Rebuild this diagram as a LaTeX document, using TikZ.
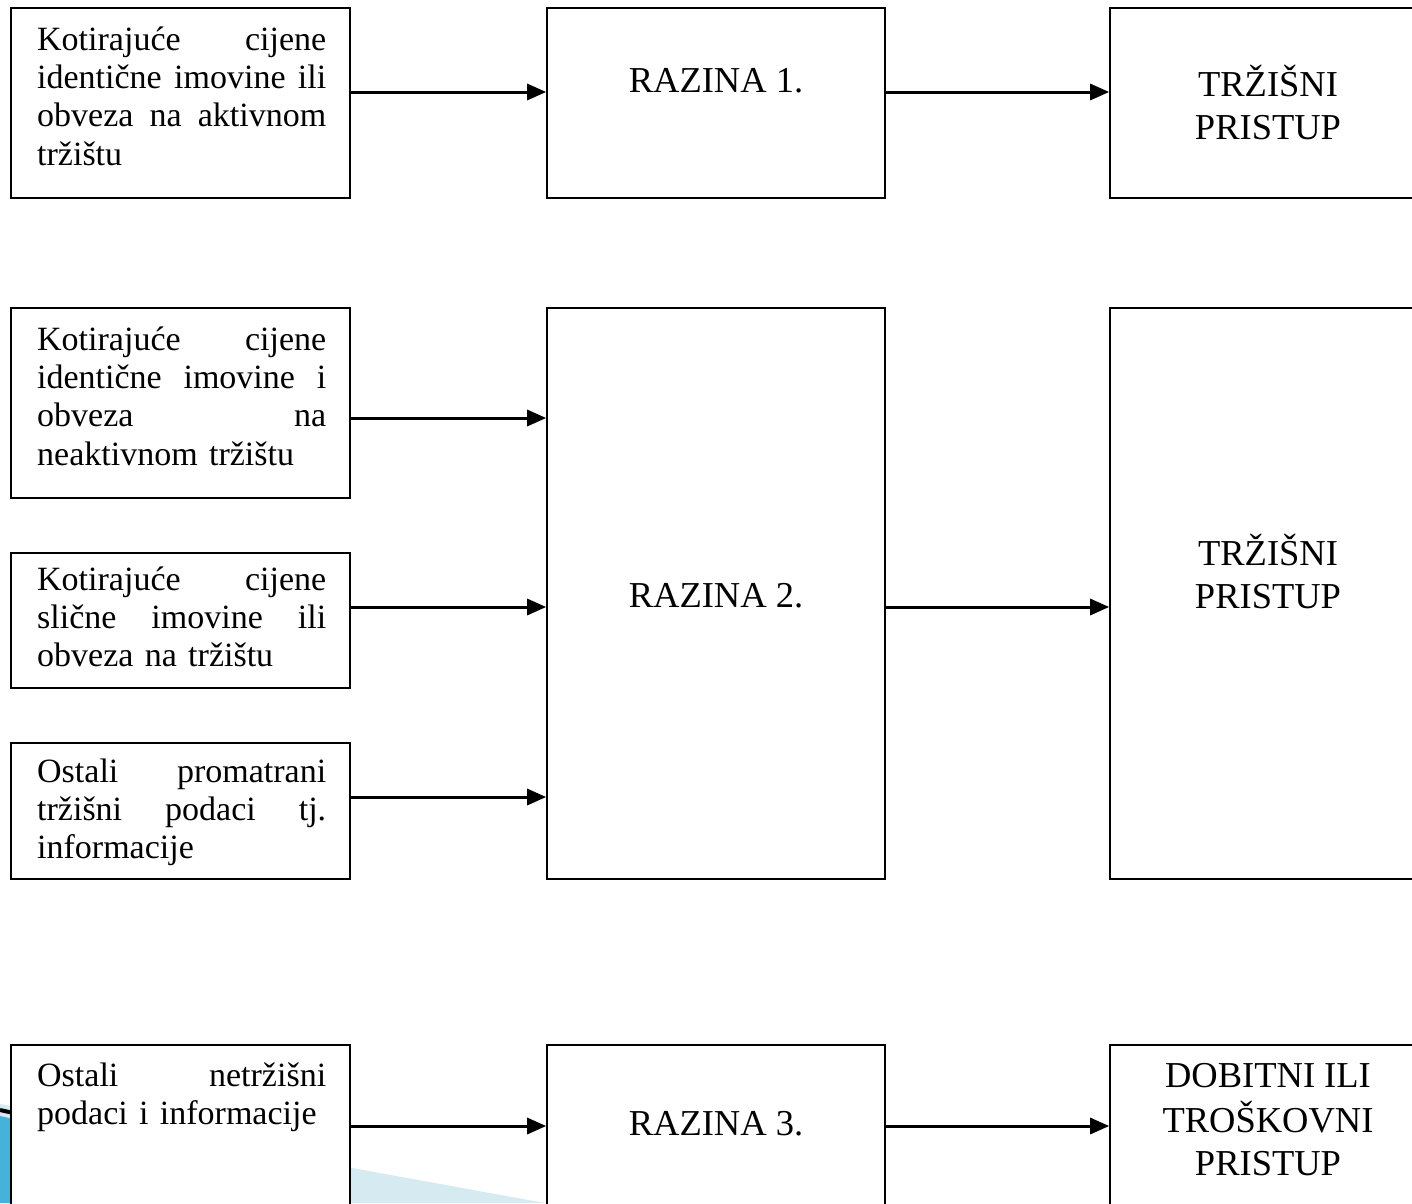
\documentclass[tikz,border=0pt]{standalone}
\usepackage{fontspec}
\setmainfont{Liberation Serif}
\usetikzlibrary{arrows.meta}
\definecolor{lightblue}{RGB}{214,234,242}
\definecolor{deepblue}{RGB}{70,178,218}
\newcommand{\jline}[1]{\leavevmode\makebox[289pt][l]{#1}}
\tikzset{
  box/.style={draw=black, line width=1.6pt, fill=white, inner sep=0pt},
  lbox/.style={box, minimum width=339pt},
  mbox/.style={box, minimum width=338pt},
  rbox/.style={box, minimum width=316pt},
  ltext/.style={anchor=north west, inner sep=0pt, text width=289pt, align=left,
     font=\fontsize{34}{38.3}\selectfont},
  ctext/.style={anchor=north, inner sep=0pt, align=center,
     font=\fontsize{36.5}{43}\selectfont},
  arr/.style={line width=3pt, -{Triangle[length=19pt,width=16pt]}},
}
\begin{document}
\begin{tikzpicture}[x=1pt,y=-1pt]
\useasboundingbox (0,0) rectangle (1412,1203);
\clip (0,0) rectangle (1412,1203);
\fill[white] (0,0) rectangle (1412,1203);
% background decoration
\fill[lightblue] (0,1104) -- (545,1203) -- (0,1203) -- cycle;
\fill[deepblue] (0,1116) -- (200,1160) -- (200,1203) -- (0,1203) -- cycle;
\draw[line width=4pt, black] (0,1110) -- (200,1154);
% left boxes
\node[lbox, minimum height=190pt] (a1) at (180.5,103) {};
\node[lbox, minimum height=190pt] (a2) at (180.5,403) {};
\node[lbox, minimum height=135pt] (a3) at (180.5,620.5) {};
\node[lbox, minimum height=136pt] (a4) at (180.5,811) {};
\node[lbox, minimum height=215pt] (a5) at (180.5,1152.5) {};
% middle boxes
\node[mbox, minimum height=190pt] (r1) at (716,103) {};
\node[mbox, minimum height=571pt] (r2) at (716,593.5) {};
\node[mbox, minimum height=215pt] (r3) at (716,1152.5) {};
% right boxes
\node[rbox, minimum height=190pt] (t1) at (1268,103) {};
\node[rbox, minimum height=571pt] (t2) at (1268,593.5) {};
\node[rbox, minimum height=215pt] (t3) at (1268,1152.5) {};
% left texts
\node[ltext] (a1t) at (37,23.2) {\strut\jline{Kotirajuće\hfill cijene}\\\jline{identične\hfill imovine\hfill ili}\\\jline{obveza\hfill na\hfill aktivnom}\\tržištu};
\node[ltext] (a2t) at (37,323.2) {\strut\jline{Kotirajuće\hfill cijene}\\\jline{identične\hfill imovine\hfill i}\\\jline{obveza\hfill na}\\neaktivnom tržištu};
\node[ltext] (a3t) at (37,563.2) {\strut\jline{Kotirajuće\hfill cijene}\\\jline{slične\hfill imovine\hfill ili}\\obveza na tržištu};
\node[ltext] (a4t) at (37,755.2) {\strut\jline{Ostali\hfill promatrani}\\\jline{tržišni\hfill podaci\hfill tj.}\\informacije};
\node[ltext] (a5t) at (37,1059.2) {\strut\jline{Ostali\hfill netržišni}\\podaci i informacije};
% middle texts
\node[ctext] (r1t) at (716,62) {\strut RAZINA 1.};
\node[ctext] (r2t) at (716,577) {\strut RAZINA 2.};
\node[ctext] (r3t) at (716,1105) {\strut RAZINA 3.};
% right texts
\node[ctext] (t1t) at (1268,65) {\strut TRŽIŠNI\\PRISTUP};
\node[ctext] (t2t) at (1268,534) {\strut TRŽIŠNI\\PRISTUP};
\node[ctext] (t3t) at (1268,1057) {\strut DOBITNI ILI\\TROŠKOVNI\\PRISTUP};
% arrows
\draw[arr] (a1.east |- 0,92) -- (r1.west |- 0,92);
\draw[arr] (r1.east |- 0,92) -- (t1.west |- 0,92);
\draw[arr] (a2.east |- 0,418) -- (r2.west |- 0,418);
\draw[arr] (a3.east |- 0,607) -- (r2.west |- 0,607);
\draw[arr] (a4.east |- 0,797) -- (r2.west |- 0,797);
\draw[arr] (r2.east |- 0,607) -- (t2.west |- 0,607);
\draw[arr] (a5.east |- 0,1126) -- (r3.west |- 0,1126);
\draw[arr] (r3.east |- 0,1126) -- (t3.west |- 0,1126);
\end{tikzpicture}
\end{document}
